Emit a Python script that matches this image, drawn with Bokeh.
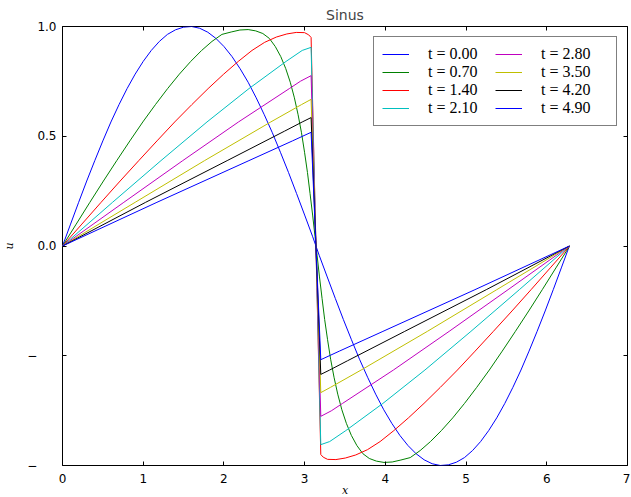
from bokeh.plotting import figure
from bokeh.models import LinearAxis, Legend, LegendItem, FixedTicker, CustomLabelingPolicy
from bokeh.embed import file_html
from bokeh.resources import INLINE

# ---- data ----
times = ["0.00", "0.70", "1.40", "2.10", "2.80", "3.50", "4.20", "4.90"]
colors = ["#0000ff", "#008000", "#ff0000", "#00bfbf", "#bf00bf", "#bfbf00", "#000000", "#0000ff"]

x_t000 = [0, .1, .2, .3, .4, .5, .6, .7, .8, .9, 1.0, 1.1, 1.2, 1.3, 1.4, 1.5, 1.6, 1.7, 1.8, 1.9,
          2.0, 2.1, 2.2, 2.3, 2.4, 2.5, 2.6, 2.7, 2.8, 2.9, 3.0, 3.1, 3.14,
          3.18, 3.28, 3.38, 3.48, 3.58, 3.68, 3.78, 3.88, 3.98, 4.08, 4.18, 4.28, 4.38, 4.48, 4.58,
          4.68, 4.78, 4.88, 4.98, 5.08, 5.18, 5.28, 5.38, 5.48, 5.58, 5.68, 5.78, 5.88, 5.98, 6.08, 6.18, 6.28]
u_t000 = [0, .0998, .199, .296, .389, .479, .565, .644, .717, .783, .841, .891, .932, .964, .985, .997, 1.0,
          .992, .974, .946, .909, .863, .808, .746, .675, .598, .516, .427, .335, .239, .141, .042, 0,
          -.042, -.141, -.239, -.335, -.427, -.516, -.598, -.675, -.746, -.808, -.863, -.909, -.946, -.974,
          -.992, -1.0, -.997, -.985, -.964, -.932, -.891, -.841, -.783, -.717, -.644, -.565, -.479, -.389,
          -.296, -.199, -.0998, 0]

x_t070 = [0, .170, .339, .507, .672, .835, .995, 1.151, 1.302, 1.448, 1.589, 1.724, 1.852, 1.975, 2.090,
          2.198, 2.300, 2.394, 2.482, 2.562, 2.636, 2.704, 2.766, 2.822, 2.873, 2.919, 2.961, 2.999, 3.035,
          3.067, 3.099, 3.129, 3.1416,
          3.154, 3.184, 3.216, 3.248, 3.284, 3.322, 3.364, 3.410, 3.461, 3.517, 3.579, 3.647, 3.721, 3.801,
          3.889, 3.983, 4.085, 4.193, 4.308, 4.431, 4.559, 4.694, 4.835, 4.981, 5.132, 5.288, 5.448, 5.611,
          5.776, 5.944, 6.113, 6.283]
u_t070 = [0, .0998, .199, .296, .389, .479, .565, .644, .717, .783, .841, .891, .932, .964, .975,
          .984, .986, .980, .968, .946, .909, .863, .808, .746, .675, .598, .516, .427, .335,
          .239, .141, .042, 0,
          -.042, -.141, -.239, -.335, -.427, -.516, -.598, -.675, -.746, -.808, -.863, -.909, -.946, -.968,
          -.980, -.986, -.984, -.975, -.964, -.932, -.891, -.841, -.783, -.717, -.644, -.565, -.479, -.389,
          -.296, -.199, -.0998, 0]

x_t140 = [0, .240, .478, .714, .945, 1.171, 1.390, 1.602, 1.804, 1.997, 2.178, 2.348, 2.505, 2.650, 2.779,
          2.896, 2.999, 3.05, 3.08,
          3.20, 3.23, 3.284, 3.387, 3.504, 3.633, 3.778, 3.935, 4.105, 4.286, 4.479, 4.681, 4.893, 5.112,
          5.338, 5.569, 5.805, 6.043, 6.283]
u_t140 = [0, .0998, .199, .296, .389, .479, .565, .644, .717, .783, .841, .891, .928, .952, .966,
          .973, .972, .962, .950,
          -.950, -.962, -.972, -.973, -.966, -.952, -.928, -.891, -.841, -.783, -.717, -.644, -.565, -.479,
          -.389, -.296, -.199, -.0998, 0]

x_t210 = [0, .62, 1.22, 1.79, 2.31, 2.77, 2.97, 3.08, 3.20, 3.31, 3.51, 3.97, 4.49, 5.06, 5.66, 6.28]
u_t210 = [0, .199, .389, .565, .717, .841, .891, .905, -.905, -.891, -.841, -.717, -.565, -.389, -.199, 0]

x_t280 = [0, .76, 1.49, 2.18, 2.81, 2.95, 3.08, 3.20, 3.33, 3.47, 4.10, 4.79, 5.52, 6.28]
u_t280 = [0, .199, .389, .565, .717, .751, .776, -.776, -.751, -.717, -.565, -.389, -.199, 0]

x_t350 = [0, .90, 1.76, 2.58, 2.96, 3.08, 3.20, 3.32, 3.70, 4.52, 5.38, 6.28]
u_t350 = [0, .199, .389, .565, .644, .668, -.668, -.644, -.565, -.389, -.199, 0]

x_t420 = [0, 1.03, 2.04, 2.75, 2.97, 3.08, 3.20, 3.31, 3.53, 4.24, 5.25, 6.28]
u_t420 = [0, .199, .389, .523, .565, .585, -.585, -.565, -.523, -.389, -.199, 0]

x_t490 = [0, 1.17, 2.31, 2.85, 3.08, 3.20, 3.43, 3.97, 5.11, 6.28]
u_t490 = [0, .199, .389, .479, .518, -.518, -.479, -.389, -.199, 0]

x_ticks = [0, 1, 2, 3, 4, 5, 6, 7]
y_ticks = [-1.0, -0.5, 0.0, 0.5, 1.0]
y_tick_labels = ["\u2212\u2007\u2008\u2007", "\u2212\u2007\u2008\u2007", "0.0", "0.5", "1.0"]

series_x = [x_t000, x_t070, x_t140, x_t210, x_t280, x_t350, x_t420, x_t490]
series_u = [u_t000, u_t070, u_t140, u_t210, u_t280, u_t350, u_t420, u_t490]

# ---- figure ----
p = figure(frame_width=565, frame_height=439, x_range=(0, 7), y_range=(-1, 1),
           output_backend="svg", toolbar_location=None, title="Sinus",
           min_border_left=55, min_border_right=3, min_border_top=20, min_border_bottom=22)
p.grid.visible = False
p.background_fill_color = "white"
p.border_fill_color = "white"
p.outline_line_color = "black"
p.outline_line_width = 1

p.title.align = "center"
p.title.text_font = "DejaVu Sans"
p.title.text_font_size = "14px"
p.title.text_font_style = "normal"
p.title.standoff = 8

no_labels = CustomLabelingPolicy(code="for (const i of indices) indices.unset(i)")

def style_axis(ax, labels=True):
    ax.axis_line_color = None
    ax.major_tick_in = 4
    ax.major_tick_out = 0
    ax.minor_tick_line_color = None
    ax.major_tick_line_color = "black"
    if labels:
        ax.major_label_text_font = "DejaVu Sans"
        ax.major_label_text_font_size = "12px"
        ax.major_label_text_color = "black"
    else:
        ax.major_label_policy = no_labels
        ax.major_label_overrides = {t: "" for t in ax.ticker.ticks}
        ax.major_label_standoff = 0

xa = p.xaxis[0]
ya = p.yaxis[0]
xa.ticker = FixedTicker(ticks=x_ticks)
ya.ticker = FixedTicker(ticks=y_ticks)
style_axis(xa)
style_axis(ya)
ya.major_label_overrides = {t: l for t, l in zip(y_ticks, y_tick_labels)}
xa.major_label_standoff = 8
ya.major_label_standoff = 6

xa.axis_label = "x"
ya.axis_label = "u"
for ax in (xa, ya):
    ax.axis_label_text_font = "DejaVu Serif"
    ax.axis_label_text_font_style = "italic"
    ax.axis_label_text_font_size = "11px"
    ax.axis_label_text_color = "black"
xa.axis_label_standoff = -2
ya.axis_label_standoff = 8

top = LinearAxis(ticker=FixedTicker(ticks=x_ticks))
right = LinearAxis(ticker=FixedTicker(ticks=y_ticks))
style_axis(top, labels=False)
style_axis(right, labels=False)
p.add_layout(top, "above")
p.add_layout(right, "right")

items = []
for xs, us, c, t in zip(series_x, series_u, colors, times):
    r = p.line(xs, us, line_color=c, line_width=1)
    items.append(LegendItem(label=f"t = {t}", renderers=[r]))

legend = Legend(items=items, location="top_right", ncols=2)
legend.label_text_font = "Liberation Serif"
legend.label_text_font_size = "16px"
legend.label_text_color = "black"
legend.glyph_width = 27
legend.glyph_height = 14
legend.label_standoff = 19
legend.label_width = 67
legend.label_height = 14
legend.spacing = 0
legend.padding = 8
legend.margin = 10
legend.border_line_color = "black"
legend.border_line_width = 1
legend.background_fill_alpha = 1
p.add_layout(legend)

open("out.html", "w").write(file_html(p, INLINE))
